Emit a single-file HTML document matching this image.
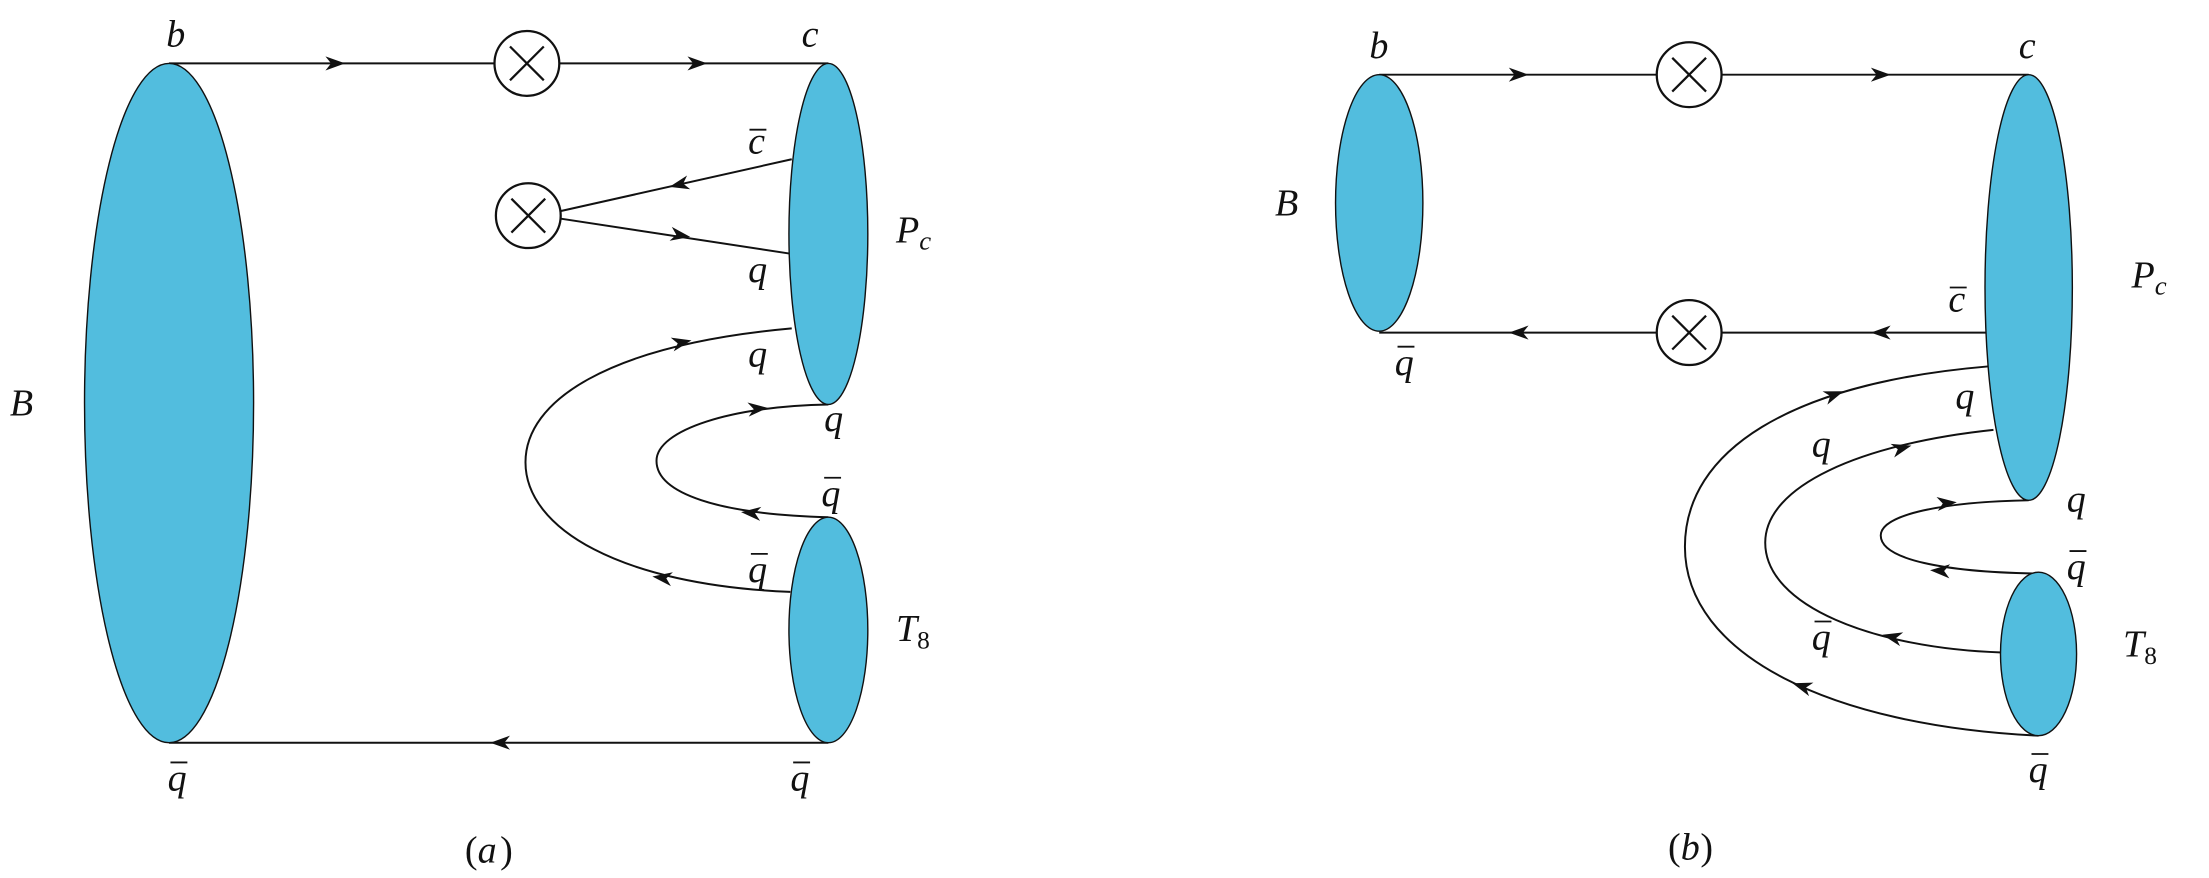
<!DOCTYPE html>
<html><head><meta charset="utf-8"><style>
html,body{margin:0;padding:0;background:#fff;}
svg{display:block;}
text{font-family:"Liberation Serif",serif;font-style:italic;font-size:27px;fill:#111;}
.up{font-style:normal;font-size:18px;}
</style></head><body>
<svg width="2209" height="878" viewBox="0 0 1568 623" preserveAspectRatio="none" xmlns="http://www.w3.org/2000/svg">
<defs>
<path id="ar" d="M7,0 L-7,-5 L-3,0 L-7,5 Z" fill="#111"/>
</defs>
<g stroke="#111" stroke-width="1.4" fill="none">
<line x1="120" y1="45" x2="588" y2="45"/>
<line x1="120" y1="527" x2="588" y2="527"/>
<line x1="397" y1="150" x2="562" y2="113"/>
<line x1="397" y1="155" x2="561" y2="180"/>
<path d="M562,233 C430,245 373,285 373,328 C373,375 440,415 561,420"/>
<path d="M588,287 C520,288 466,305 466,327 C466,350 510,365 588,367"/>
<line x1="979" y1="53" x2="1440" y2="53"/>
<line x1="979" y1="236" x2="1411" y2="236"/>
<path d="M1411,260 C1270,272 1196,320 1196,388 C1196,465 1300,515 1447,522"/>
<path d="M1415,305 C1320,315 1253,345 1253,385 C1253,430 1330,460 1421,463"/>
<path d="M1440,355 C1380,356 1335,365 1335,380 C1335,397 1380,406 1447,407"/>
</g>
<g fill="#52BDDE" stroke="#111" stroke-width="1">
<ellipse cx="120" cy="286" rx="60" ry="241"/>
<ellipse cx="588" cy="166" rx="28" ry="121"/>
<ellipse cx="588" cy="447" rx="28" ry="80"/>
<ellipse cx="979" cy="144" rx="31" ry="91"/>
<ellipse cx="1440" cy="204" rx="31" ry="151"/>
<ellipse cx="1447" cy="464" rx="27" ry="58"/>
</g>
<g stroke="#111" stroke-width="1.6" fill="#fff">
<circle cx="374" cy="45" r="23"/>
<circle cx="375" cy="153" r="23"/>
<circle cx="1199" cy="53" r="23"/>
<circle cx="1199" cy="236" r="23"/>
</g>
<g stroke="#111" stroke-width="1.6">
<path d="M362,33 L386,57 M386,33 L362,57"/>
<path d="M363,141 L387,165 M387,141 L363,165"/>
<path d="M1187,41 L1211,65 M1211,41 L1187,65"/>
<path d="M1187,224 L1211,248 M1211,224 L1187,248"/>
</g>
<use href="#ar" transform="translate(238,45)"/>
<use href="#ar" transform="translate(495,45)"/>
<use href="#ar" transform="translate(355,527) rotate(180)"/>
<use href="#ar" transform="translate(482,131) rotate(167)"/>
<use href="#ar" transform="translate(483,167) rotate(9)"/>
<use href="#ar" transform="translate(484,243) rotate(-12)"/>
<use href="#ar" transform="translate(470,410) rotate(188)"/>
<use href="#ar" transform="translate(538,290) rotate(-5)"/>
<use href="#ar" transform="translate(533,364) rotate(185)"/>
<use href="#ar" transform="translate(1078,53)"/>
<use href="#ar" transform="translate(1335,53)"/>
<use href="#ar" transform="translate(1078,236) rotate(180)"/>
<use href="#ar" transform="translate(1335,236) rotate(180)"/>
<use href="#ar" transform="translate(1302,280) rotate(-20)"/>
<use href="#ar" transform="translate(1279,487) rotate(198)"/>
<use href="#ar" transform="translate(1350,318) rotate(-15)"/>
<use href="#ar" transform="translate(1343,452) rotate(193)"/>
<use href="#ar" transform="translate(1382,357) rotate(-5)"/>
<use href="#ar" transform="translate(1377,405) rotate(183)"/>
<text x="118" y="33">b</text>
<text x="569" y="33">c</text>
<text x="531" y="109">c</text><line x1="532" y1="92" x2="544" y2="92" stroke="#111" stroke-width="1.3"/>
<text x="531" y="200">q</text>
<text x="636" y="172">P<tspan font-size="19" dy="5">c</tspan></text>
<text x="531" y="260">q</text>
<text x="585" y="306">q</text>
<text x="583" y="359">q</text><line x1="585" y1="339" x2="597" y2="339" stroke="#111" stroke-width="1.3"/>
<text x="531" y="413">q</text><line x1="533" y1="393" x2="545" y2="393" stroke="#111" stroke-width="1.3"/>
<text x="636" y="455">T<tspan class="up" dy="5">8</tspan></text>
<text x="7" y="295">B</text>
<text x="119" y="561">q</text><line x1="121" y1="541" x2="133" y2="541" stroke="#111" stroke-width="1.3"/>
<text x="561" y="561">q</text><line x1="563" y1="541" x2="575" y2="541" stroke="#111" stroke-width="1.3"/>
<text x="330" y="612" style="font-style:normal">(</text><text x="339" y="612">a</text><text x="355" y="612" style="font-style:normal">)</text>
<text x="972" y="41">b</text>
<text x="1433" y="41">c</text>
<text x="905" y="153">B</text>
<text x="990" y="266">q</text><line x1="992" y1="246" x2="1004" y2="246" stroke="#111" stroke-width="1.3"/>
<text x="1383" y="221">c</text><line x1="1384" y1="204" x2="1396" y2="204" stroke="#111" stroke-width="1.3"/>
<text x="1513" y="204">P<tspan font-size="19" dy="5">c</tspan></text>
<text x="1388" y="290">q</text>
<text x="1286" y="324">q</text>
<text x="1467" y="363">q</text>
<text x="1467" y="411">q</text><line x1="1469" y1="391" x2="1481" y2="391" stroke="#111" stroke-width="1.3"/>
<text x="1286" y="461">q</text><line x1="1288" y1="441" x2="1300" y2="441" stroke="#111" stroke-width="1.3"/>
<text x="1507" y="466">T<tspan class="up" dy="5">8</tspan></text>
<text x="1440" y="555">q</text><line x1="1442" y1="535" x2="1454" y2="535" stroke="#111" stroke-width="1.3"/>
<text x="1184" y="610" style="font-style:normal">(</text><text x="1193" y="610">b</text><text x="1207" y="610" style="font-style:normal">)</text>
</svg>
</body></html>
